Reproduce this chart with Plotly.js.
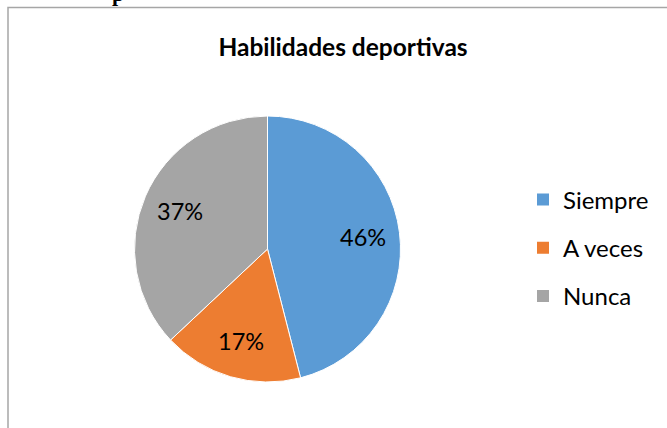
<!DOCTYPE html>
<html>
<head>
<meta charset="utf-8">
<script src="https://cdn.plot.ly/plotly-3.0.1.min.js"></script>
<style>html,body{margin:0;padding:0;background:#fff;}#chart{width:667px;height:428px;}</style>
</head>
<body>
<div id="chart"></div>
<script>
const categories = ["Siempre", "A veces", "Nunca"];
const percentages = [46, 17, 37];
const sliceColors = ["#5B9BD5", "#ED7D31", "#A5A5A5"];
const chartTitle = "Habilidades deportivas";

const W = 667, H = 428;
const cx = 267.5, cy = 249, r = 133;
const FONT = "Lato, 'Open Sans', sans-serif";

const pieDomain = {x: [(cx - r) / W, (cx + r) / W], y: [(H - cy - r) / H, (H - cy + r) / H]};

const data = [{
  type: "pie",
  labels: categories,
  values: percentages,
  sort: false,
  direction: "clockwise",
  rotation: 0,
  marker: {colors: sliceColors, line: {color: "#ffffff", width: 1}},
  textinfo: "none",
  domain: pieDomain,
  showlegend: false
}];

// legend entries (one per category, so they can be spaced like the original)
categories.forEach((c, i) => {
  data.push({
    type: "scatter", mode: "markers", x: [null], y: [null],
    name: c, legendgroup: "g" + i,
    marker: {symbol: "square", size: 12, color: sliceColors[i]},
    showlegend: true, hoverinfo: "skip"
  });
});

// percentage labels placed along each slice's middle angle
const total = percentages.reduce((a, b) => a + b, 0);
let cum = 0;
const annotations = percentages.map((v) => {
  const mid = (cum + v / 2) / total * 2 * Math.PI;
  cum += v;
  const rr = 0.72 * r;
  return {
    text: v + "%", xref: "paper", yref: "paper",
    x: (cx + rr * Math.sin(mid)) / W, y: (H - cy + rr * Math.cos(mid)) / H,
    xanchor: "center", yanchor: "middle", showarrow: false,
    font: {family: FONT, size: 23.5, color: "#000"}
  };
});
annotations.push({text: "<b>p</b>", xref: "paper", yref: "paper", x: 118 / W, y: 1 - 8 / H, xanchor: "center", yanchor: "bottom", showarrow: false, font: {family: "Liberation Serif, serif", size: 22, color: "#000"}});

const layout = {
  width: W, height: H,
  margin: {l: 0, r: 0, t: 0, b: 0},
  paper_bgcolor: "#fff", plot_bgcolor: "rgba(0,0,0,0)",
  xaxis: {visible: false}, yaxis: {visible: false},
  title: {text: "<b>" + chartTitle + "</b>", font: {family: FONT, size: 24.5, color: "#000"}, x: 343 / W, xanchor: "center", y: 1 - 47 / H, yanchor: "middle"},
  showlegend: true,
  legend: {x: 523 / W, xanchor: "left", y: 1 - 248 / H, yanchor: "middle", traceorder: "grouped", tracegroupgap: 14, itemwidth: 30,
           font: {family: FONT, size: 24, color: "#000"}, bgcolor: "rgba(0,0,0,0)"},
  shapes: [{type: "rect", xref: "paper", yref: "paper", x0: 8 / W, x1: 1.05, y0: -0.05, y1: 1 - 7.5 / H, line: {color: "#a6a6a6", width: 1.5}, fillcolor: "rgba(0,0,0,0)"}],
  annotations: annotations
};

Plotly.newPlot("chart", data, layout, {displayModeBar: false, staticPlot: true});
</script>
</body>
</html>
